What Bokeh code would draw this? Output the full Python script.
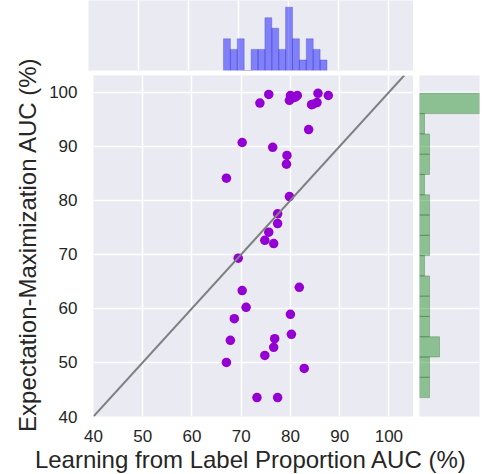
import numpy as np
from bokeh.plotting import figure
from bokeh.layouts import column, row, Spacer
from bokeh.models import Range1d, FixedTicker, Slope
from bokeh.core.properties import value
from bokeh.embed import file_html
from bokeh.resources import INLINE

# Learning from Label Proportion AUC (%) vs Expectation-Maximization AUC (%)
lpr_auc = [75.6, 73.8, 80.0, 81.4, 79.8, 81.0, 85.6, 87.7, 84.6, 85.4,
           83.7, 70.2, 76.4, 79.3, 79.2, 67.0, 79.8, 77.4, 77.4, 75.6,
           74.8, 76.6, 69.4, 70.2, 81.8, 71.0, 68.6, 80.0, 67.8, 76.8,
           80.2, 76.6, 74.8, 67.0, 82.8, 73.2, 77.4, 80.6, 84.3]
em_auc = [99.6, 98.0, 99.4, 99.4, 98.5, 99.1, 99.8, 99.4, 97.8, 98.1,
          93.1, 90.7, 89.8, 88.3, 86.7, 84.1, 80.7, 77.5, 75.7, 74.1,
          72.6, 72.0, 69.3, 63.3, 63.9, 60.2, 58.1, 58.9, 54.1, 54.4,
          55.2, 52.8, 51.3, 50.0, 48.9, 43.5, 43.5, 99.0, 97.7]
tick_values = [40, 50, 60, 70, 80, 90, 100]
x_label_text = "Learning from Label Proportion AUC (%)"
y_label_text = "Expectation-Maximization AUC (%)"
n_bins = 15

BG = "#EAEAF2"
TXT = "#262626"
FONT = "Liberation Sans"

x_counts, x_edges = np.histogram(lpr_auc, bins=n_bins)
y_counts, y_edges = np.histogram(em_auc, bins=n_bins)

x_rng = Range1d(40, 105)
y_rng = Range1d(40, 103.1)


def blank_fig(w, h):
    f = figure(width=w, height=h, x_range=Range1d(0, w), y_range=Range1d(0, h),
               output_backend="svg", toolbar_location=None,
               x_axis_location=None, y_axis_location=None,
               min_border=0)
    f.outline_line_color = None
    f.grid.grid_line_color = None
    f.background_fill_color = "white"
    f.border_fill_color = "white"
    return f


# Main scatter
p = figure(width=367, height=369, x_range=x_rng, y_range=y_rng,
           output_backend="svg", toolbar_location=None,
           min_border_left=42, min_border_right=0, min_border_top=0,
           min_border_bottom=27)
p.background_fill_color = BG
p.border_fill_color = "white"
p.outline_line_color = None
p.grid.grid_line_color = "white"
p.grid.grid_line_width = 1.5
p.xaxis.ticker = FixedTicker(ticks=tick_values)
p.yaxis.ticker = FixedTicker(ticks=tick_values)
p.xgrid.ticker = FixedTicker(ticks=tick_values)
p.ygrid.ticker = FixedTicker(ticks=tick_values)
for ax in (p.xaxis, p.yaxis):
    ax.axis_line_color = None
    ax.major_tick_line_color = None
    ax.minor_tick_line_color = None
    ax.major_label_text_font = FONT
    ax.major_label_text_color = TXT
    ax.major_label_text_font_size = "17px"
p.xaxis.major_label_standoff = 7
p.yaxis.major_label_standoff = 10

p.add_layout(Slope(gradient=1, y_intercept=0, line_color="#808080", line_width=2))
p.scatter(lpr_auc, em_auc, size=9.5, color="#9400D3", line_color=None)

# Top marginal histogram
top = figure(width=367, height=75, x_range=x_rng, y_range=Range1d(0, 6.63),
             output_backend="svg", toolbar_location=None,
             x_axis_location=None, y_axis_location=None,
             min_border_left=42, min_border_right=0, min_border_top=0,
             min_border_bottom=5)
top.background_fill_color = BG
top.border_fill_color = "white"
top.outline_line_color = None
top.xgrid.ticker = FixedTicker(ticks=tick_values)
top.xgrid.grid_line_color = "white"
top.xgrid.grid_line_width = 1.5
top.ygrid.grid_line_color = None
top.quad(left=x_edges[:-1], right=x_edges[1:], bottom=0, top=x_counts,
         fill_color="blue", fill_alpha=0.45, line_color="#3030c0",
         line_alpha=0.3, line_width=1)

# Right marginal histogram
right = figure(width=74, height=369, x_range=Range1d(0, 12), y_range=y_rng,
               output_backend="svg", toolbar_location=None,
               x_axis_location=None, y_axis_location=None,
               min_border_left=6, min_border_right=8, min_border_top=0,
               min_border_bottom=27)
right.background_fill_color = BG
right.border_fill_color = "white"
right.outline_line_color = None
right.ygrid.ticker = FixedTicker(ticks=tick_values)
right.ygrid.grid_line_color = "white"
right.ygrid.grid_line_width = 1.5
right.xgrid.grid_line_color = None
right.quad(left=0, right=y_counts, bottom=y_edges[:-1], top=y_edges[1:],
           fill_color="green", fill_alpha=0.4, line_color="#206020",
           line_alpha=0.3, line_width=1)

# Axis titles (separate panels so they are not clipped)
ylab = blank_fig(46, 444)
ylab.text(x=[26.5], y=[200], text=[y_label_text], angle=np.pi / 2,
          text_align="center", text_baseline="middle",
          text_font=value(FONT), text_font_size="24px", text_color=TXT)

xlab = blank_fig(487, 30)
xlab.text(x=[250.5], y=[15], text=[x_label_text],
          text_align="center", text_baseline="middle",
          text_font=value(FONT), text_font_size="24px", text_color=TXT)

layout = column(
    row(ylab, column(row(top, Spacer(width=74, height=75)), row(p, right))),
    xlab,
)

open("out.html", "w").write(file_html(layout, INLINE))
